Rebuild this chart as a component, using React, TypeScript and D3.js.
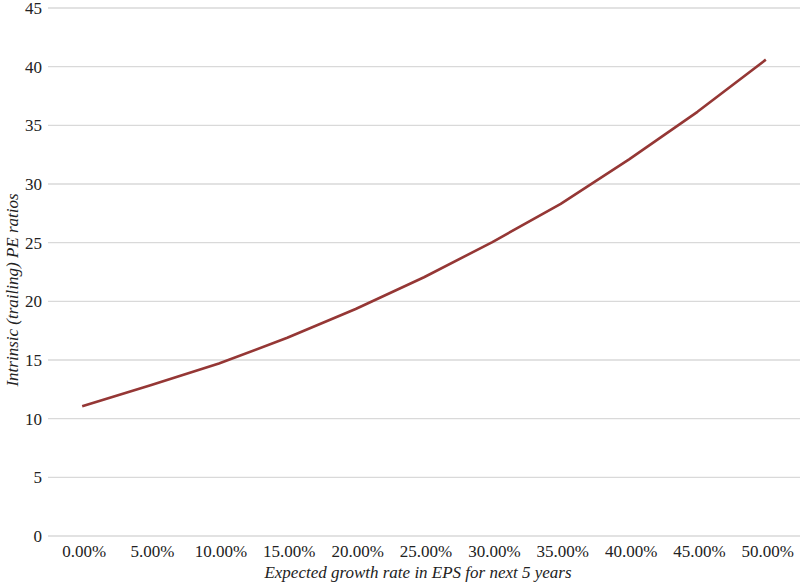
import React, { useRef, useEffect } from 'react';
import * as d3 from 'd3';

const growthRates: string[] = ['0.00%', '5.00%', '10.00%', '15.00%', '20.00%', '25.00%', '30.00%', '35.00%', '40.00%', '45.00%', '50.00%'];
const peRatios: number[] = [11.05, 12.85, 14.7, 16.9, 19.35, 22.05, 25.05, 28.3, 32.1, 36.15, 40.6];
const yTicks: number[] = [0, 5, 10, 15, 20, 25, 30, 35, 40, 45];

const width = 804;
const height = 584;
const margin = { top: 8, right: 4, bottom: 48, left: 48 };

function App() {
    const ref = useRef<SVGSVGElement>(null);

    useEffect(() => {
        if (!ref.current) return;
        const svg = d3.select(ref.current);
        svg.selectAll('*').remove();

        const x = d3.scaleBand<string>()
            .domain(growthRates)
            .range([margin.left, width - margin.right]);
        const y = d3.scaleLinear()
            .domain([0, 45])
            .range([height - margin.bottom, margin.top]);

        const font = "'Liberation Serif', 'DejaVu Serif', serif";

        // gridlines
        svg.append('g')
            .selectAll('line')
            .data(yTicks)
            .join('line')
                .attr('x1', margin.left)
                .attr('x2', width - margin.right)
                .attr('y1', d => y(d))
                .attr('y2', d => y(d))
                .attr('stroke', '#d9d9d9')
                .attr('stroke-width', 1.3);

        // y tick labels
        svg.append('g')
                .style('font-family', font)
                .attr('font-size', 17)
                .attr('fill', '#222')
                .attr('text-anchor', 'end')
            .selectAll('text')
            .data(yTicks)
            .join('text')
                .attr('x', margin.left - 6)
                .attr('y', d => y(d))
                .attr('dy', '0.35em')
                .text(d => d);

        // x tick labels
        svg.append('g')
                .style('font-family', font)
                .attr('font-size', 17)
                .attr('fill', '#222')
                .attr('text-anchor', 'middle')
            .selectAll('text')
            .data(growthRates)
            .join('text')
                .attr('x', d => (x(d) as number) + x.bandwidth() / 2 + 2)
                .attr('y', height - margin.bottom + 21)
                .text(d => d);

        // line
        const line = d3.line<number>()
            .x((_, i) => (x(growthRates[i]) as number) + x.bandwidth() / 2)
            .y(d => y(d));

        svg.append('path')
            .datum(peRatios)
            .attr('fill', 'none')
            .attr('stroke', '#953735')
            .attr('stroke-width', 2.6)
            .attr('stroke-linejoin', 'round')
            .attr('d', line);

        // axis titles
        svg.append('text')
            .style('font-family', font)
            .attr('font-size', 17)
            .attr('font-style', 'italic')
            .attr('fill', '#222')
            .attr('text-anchor', 'middle')
            .attr('x', 418)
            .attr('y', height - 6)
            .text('Expected growth rate in EPS for next 5 years');

        svg.append('text')
            .style('font-family', font)
            .attr('font-size', 17)
            .attr('font-style', 'italic')
            .attr('fill', '#222')
            .attr('text-anchor', 'middle')
            .attr('transform', `translate(18, 290) rotate(-90)`)
            .text('Intrinsic (trailing) PE ratios');
    }, []);

    return (
        <svg
            ref={ref}
            width={width}
            height={height}
            style={{ position: 'absolute', left: 0, top: 0, background: '#fff' }}
        />
    );
}

export default App;
